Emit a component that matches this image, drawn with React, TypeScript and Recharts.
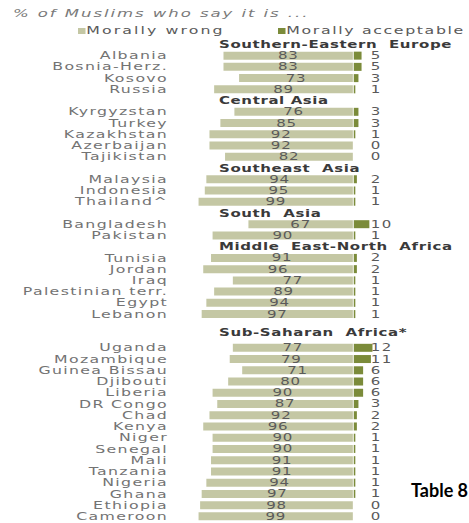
import React from 'react';
import { BarChart, Bar, XAxis, YAxis, LabelList } from 'recharts';

const sections = [
  'Southern-Eastern  Europe',
  'Central Asia',
  'Southeast  Asia',
  'South  Asia',
  'Middle  East-North  Africa',
  'Sub-Saharan  Africa*',
];

const countries = [
  ['Albania', 'Bosnia-Herz.', 'Kosovo', 'Russia'],
  ['Kyrgyzstan', 'Turkey', 'Kazakhstan', 'Azerbaijan', 'Tajikistan'],
  ['Malaysia', 'Indonesia', 'Thailand^'],
  ['Bangladesh', 'Pakistan'],
  ['Tunisia', 'Jordan', 'Iraq', 'Palestinian terr.', 'Egypt', 'Lebanon'],
  ['Uganda', 'Mozambique', 'Guinea Bissau', 'Djibouti', 'Liberia', 'DR Congo', 'Chad', 'Kenya',
    'Niger', 'Senegal', 'Mali', 'Tanzania', 'Nigeria', 'Ghana', 'Ethiopia', 'Cameroon'],
];

const morallyWrong = [
  [83, 83, 73, 89],
  [76, 85, 92, 92, 82],
  [94, 95, 99],
  [67, 90],
  [91, 96, 77, 89, 94, 97],
  [77, 79, 71, 80, 90, 87, 92, 96, 90, 90, 91, 91, 94, 97, 98, 99],
];

const morallyAcceptable = [
  [5, 5, 3, 1],
  [3, 3, 1, 0, 0],
  [2, 1, 1],
  [10, 1],
  [2, 2, 1, 1, 1, 1],
  [12, 11, 6, 6, 6, 3, 2, 2, 1, 1, 1, 1, 1, 1, 0, 0],
];

const LIGHT = '#c4c7a4';
const DARK = '#7b8b3a';
const FONT = '"DejaVu Sans", Verdana, sans-serif';
const STRETCH = 1.5; // the source picture is stretched sideways

type Row = {
  name: string;
  kind: 'header' | 'country' | 'spacer';
  afterSpacer?: boolean;
  neg?: number;
  gap?: number;
  acc?: number;
  wrong?: number;
};

// one row per header / country, a blank row before Sub-Saharan Africa
const rows: Row[] = [];
sections.forEach((s, i) => {
  const last = i === sections.length - 1;
  if (last) rows.push({ name: ' ', kind: 'spacer' });
  rows.push({ name: s, kind: 'header', afterSpacer: last });
  countries[i].forEach((c, j) => {
    const w = morallyWrong[i][j];
    const a = morallyAcceptable[i][j];
    rows.push({ name: c, kind: 'country', neg: -w, gap: 0.6, acc: a, wrong: w });
  });
});

const rowByName: Record<string, Row> = {};
rows.forEach(r => { rowByName[r.name] = r; });

function Wide(props: any) {
  const { x, y, children, ...rest } = props;
  return (
    <text transform={`translate(${x},${y}) scale(${STRETCH},1)`} x={0} y={0} fontFamily={FONT} {...rest}>
      {children}
    </text>
  );
}

function RowTick(props: any) {
  const { y, payload } = props;
  const row = rowByName[payload.value];
  if (!row || row.kind === 'spacer') return null;
  if (row.kind === 'header') {
    return (
      <Wide x={219} y={y + 4 - (row.afterSpacer ? 4 : 0)} fontSize={10} fontWeight="bold" fill="#3a3a3a"
        letterSpacing={0.4} style={{ whiteSpace: 'pre' }}>
        {payload.value}
      </Wide>
    );
  }
  return (
    <Wide x={168} y={y + 4} textAnchor="end" fontSize={10.5} fill="#737373" letterSpacing={0.9}>
      {payload.value}
    </Wide>
  );
}

function WrongLabel(props: any) {
  const { x, y, width, height, value } = props;
  if (value == null) return null;
  return (
    <Wide x={x + width / 2} y={y + height / 2 + 3.5} textAnchor="middle" fontSize={10}
      fill="#5a5a5a" letterSpacing={0.5}>
      {value}
    </Wide>
  );
}

function AccLabel(props: any) {
  const { x, y, height, value } = props;
  if (value == null) return null;
  return (
    <Wide x={x + 18} y={y + height / 2 + 3.5} fontSize={10} fill="#5a5a5a" letterSpacing={1}>
      {value}
    </Wide>
  );
}

const wideDiv: React.CSSProperties = {
  position: 'absolute',
  fontFamily: FONT,
  whiteSpace: 'nowrap',
  transform: `scaleX(${STRETCH})`,
  transformOrigin: 'left center',
};

export default function App() {
  return (
    <div style={{ position: 'absolute', left: 0, top: 0, width: 469, height: 523, background: '#fff', overflow: 'hidden' }}>
      <div style={{ ...wideDiv, left: 13, top: 7, fontSize: 11, fontStyle: 'italic', color: '#7a7a7a', letterSpacing: 1.3 }}>
        % of Muslims who say it is ...
      </div>
      <div style={{ ...wideDiv, left: 78, top: 24, fontSize: 10.5, color: '#5a5a5a', letterSpacing: 1.4 }}>
        <span style={{ display: 'inline-block', width: 5, height: 6, background: LIGHT, marginRight: 0.5 }} />
        Morally wrong
      </div>
      <div style={{ ...wideDiv, left: 278, top: 24, fontSize: 10.5, color: '#5a5a5a', letterSpacing: 1.1 }}>
        <span style={{ display: 'inline-block', width: 5, height: 6, background: DARK, marginRight: 0.5 }} />
        Morally acceptable
      </div>
      <BarChart
        width={469}
        height={523}
        data={rows}
        layout="vertical"
        stackOffset="sign"
        barSize={8}
        margin={{ top: 38.4, right: 85, bottom: 1.4, left: 0 }}
      >
        <XAxis type="number" domain={[-100, 20]} hide allowDataOverflow />
        <YAxis type="category" dataKey="name" width={197} axisLine={false} tickLine={false}
          interval={0} tick={<RowTick />} />
        <Bar dataKey="neg" stackId="a" fill={LIGHT} isAnimationActive={false}>
          <LabelList dataKey="wrong" content={<WrongLabel />} />
        </Bar>
        <Bar dataKey="gap" stackId="a" fill="none" isAnimationActive={false}>
          <LabelList dataKey="acc" content={<AccLabel />} />
        </Bar>
        <Bar dataKey="acc" stackId="a" fill={DARK} isAnimationActive={false} />
      </BarChart>
      <div style={{ position: 'absolute', left: 411, top: 479, fontFamily: 'Lato, "Liberation Sans", sans-serif', fontSize: 18, fontWeight: 'bold', color: '#000', whiteSpace: 'nowrap' }}>
        Table 8
      </div>
    </div>
  );
}
